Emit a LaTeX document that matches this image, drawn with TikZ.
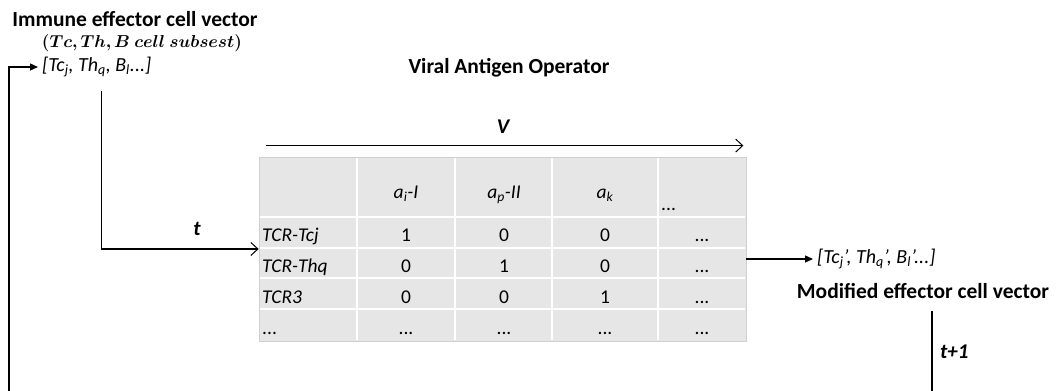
\documentclass[tikz,border=0pt]{standalone}
\usepackage{fontspec}
\usepackage{bm}
\setmainfont{Carlito}
\usetikzlibrary{arrows.meta,calc}
\definecolor{tgray}{HTML}{E7E6E6}
\definecolor{tborder}{HTML}{D0D0D0}
\newcommand{\subsetline}{\ensuremath{\bm{(Tc, Th, B\ cell\ subsest)}}}
\begin{document}
\begin{tikzpicture}[x=1pt,y=-1pt,
  heading/.style={font=\fontsize{21.5}{24}\selectfont\bfseries, inner sep=0pt},
  mathlab/.style={font=\fontsize{19}{22}\selectfont, inner sep=0pt},
  vecl/.style={font=\fontsize{20}{22}\selectfont\itshape, inner sep=4pt, anchor=west},
  cell/.style={font=\fontsize{19.5}{22}\selectfont, inner sep=0pt, anchor=base},
  rowlab/.style={font=\fontsize{19.5}{22}\selectfont\itshape, inner sep=0pt, anchor=base west},
  biglab/.style={font=\fontsize{21}{24}\selectfont\bfseries\itshape, inner sep=0pt},
  conn/.style={line width=1.3pt, black},
  openarrow/.style={conn, -{Straight Barb[length=7pt,width=13pt,line width=1pt]}},
  fillarrow/.style={conn, -{Triangle[length=8pt,width=7pt]}},
  grid/.style={white, line width=1.6pt}
]
\useasboundingbox (0,0) rectangle (1061,391);

% headings
\node[heading] (title) at (135,19) {Immune effector cell vector};
\node[mathlab] (sub) at (142,43) {\subsetline};
\node[heading] (vao) at (509,68) {Viral Antigen Operator};
\node[heading] (mod) at (923,291) {Modified effector cell vector};

% vectors
\node[vecl] (vec1) at (38,67) {[Tc\textsubscript{j}, Th\textsubscript{q}, B\textsubscript{l}...]};
\node[vecl] (vec2) at (813,259) {[Tc\textsubscript{j}\textquoteright, Th\textsubscript{q}\textquoteright, B\textsubscript{l}\textquoteright...]};

% table
\node[fill=tgray, draw=tborder, line width=0.8pt, minimum width=487pt, minimum height=184pt, inner sep=0pt] (tbl) at (502.5,249) {};
\foreach \x in {357,455,552,658} \draw[grid] (\x,157.6) -- (\x,340.4);
\foreach \y in {217,248,278,309} \draw[grid] (259.6,\y) -- (745.4,\y);

% header
\node[cell] (h1) at (406,198) {\textit{a\textsubscript{i}-I}};
\node[cell] (h2) at (504,198) {\textit{a\textsubscript{p}-II}};
\node[cell] (h3) at (605,198) {\textit{a\textsubscript{k}}};
\node[cell, anchor=base west] (h4) at (661,210) {...};

% rows
\node[rowlab] (r1) at (262,241) {TCR-Tcj};
\node[rowlab] (r2) at (262,272) {TCR-Thq};
\node[rowlab] (r3) at (262,303) {TCR3};
\node[cell, anchor=base west] (r4) at (262,334) {...};

\node[cell] (c11) at (406,241) {1};
\node[cell] (c12) at (504,241) {0};
\node[cell] (c13) at (605,241) {0};
\node[cell] (c14) at (702,241) {...};
\node[cell] (c21) at (406,272) {0};
\node[cell] (c22) at (504,272) {1};
\node[cell] (c23) at (605,272) {0};
\node[cell] (c24) at (702,272) {...};
\node[cell] (c31) at (406,303) {0};
\node[cell] (c32) at (504,303) {0};
\node[cell] (c33) at (605,303) {1};
\node[cell] (c34) at (702,303) {...};
\node[cell] (c41) at (406,334) {...};
\node[cell] (c42) at (504,334) {...};
\node[cell] (c43) at (605,334) {...};
\node[cell] (c44) at (702,334) {...};

% labels
\node[biglab] (V) at (503,127) {V};
\node[biglab] (t) at (197,229) {t};
\node[biglab, anchor=west] (t1) at (940,352) {t+1};

% connectors
\coordinate (loopL) at (9,391);
\coordinate (loopR) at (932,391);
\draw[fillarrow] (loopL) |- (vec1.west);
\draw[openarrow] ([xshift=5pt,yshift=-10pt]vec1.south) |- (tbl.west);
\draw[openarrow] ($(tbl.north west)+(7,-11)$) -- ($(tbl.north east)+(-3,-11)$);
\draw[fillarrow] (tbl.east |- vec2.west) -- (vec2.west);
\draw[conn] ([xshift=9pt,yshift=-12pt]mod.south) -- (loopR);
\end{tikzpicture}
\end{document}
